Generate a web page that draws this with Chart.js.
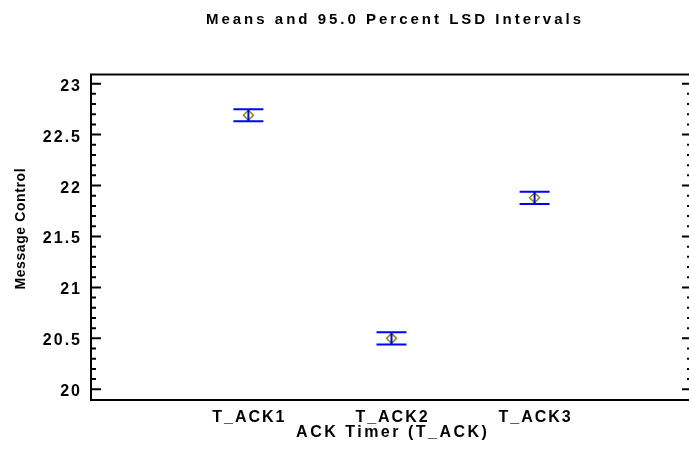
<!DOCTYPE html>
<html>
<head>
<meta charset="utf-8">
<script src="https://cdn.jsdelivr.net/npm/chart.js@4.4.1/dist/chart.umd.min.js"></script>
<style>
  html, body { margin: 0; padding: 0; background: #fff; overflow: hidden; }
  #wrap { width: 689px; height: 454px; overflow: hidden; }
  #box { position: relative; width: 709px; height: 454px; }
</style>
</head>
<body>
<div id="wrap"><div id="box"><canvas id="chart"></canvas></div></div>
<script>
// Data
const categories = ['T_ACK1', 'T_ACK2', 'T_ACK3'];
const catPos = [1, 2, 3];
const means = [22.69, 20.50, 21.88];
const lowerLimits = [22.63, 20.44, 21.82];
const upperLimits = [22.75, 20.56, 21.94];
const yTickLabels = [20, 20.5, 21, 21.5, 22, 22.5, 23];

const chartTitle = 'Means and 95.0 Percent LSD Intervals';
const xTitle = 'ACK Timer (T_ACK)';
const yTitle = 'Message Control';

const FONT = "'Liberation Sans', Arial, sans-serif";

// points for the error bars
const meanPoints = catPos.map((x, i) => ({ x: x, y: means[i] }));
const capPoints = [];
const stemPoints = [];
catPos.forEach((x, i) => {
    capPoints.push({ x: x, y: lowerLimits[i] }, { x: x, y: upperLimits[i] });
    stemPoints.push({ x: x, y: lowerLimits[i] }, { x: x, y: upperLimits[i] }, { x: x, y: null });
});

function spacedText(ctx, text, x, y, spacing, align) {
    ctx.letterSpacing = spacing + 'px';
    const w = ctx.measureText(text).width - spacing;
    let left = x;
    if (align === 'center') left = x - w / 2;
    if (align === 'right') left = x - w;
    ctx.textAlign = 'left';
    ctx.fillText(text, left, y);
    ctx.letterSpacing = '0px';
}

// frame, inward ticks and all text
const framePlugin = {
    id: 'frame',
    afterDraw(chart) {
        const ctx = chart.ctx;
        const area = chart.chartArea;
        const xs = chart.scales.x;
        const ys = chart.scales.y;
        ctx.save();
        ctx.strokeStyle = '#000';
        ctx.fillStyle = '#000';
        ctx.lineWidth = 2;
        ctx.strokeRect(area.left, area.top, area.right - area.left, area.bottom - area.top);

        // y ticks, both sides
        ctx.beginPath();
        yTickLabels.forEach((v, i) => {
            const py = ys.getPixelForValue(v);
            ctx.moveTo(area.left, py); ctx.lineTo(area.left + 10, py);
            ctx.moveTo(area.right, py); ctx.lineTo(area.right - 10, py);
            if (i < yTickLabels.length - 1) {
                for (let k = 1; k < 5; k++) {
                    const my = ys.getPixelForValue(v + k * 0.1);
                    ctx.moveTo(area.left, my); ctx.lineTo(area.left + 5, my);
                    ctx.moveTo(area.right, my); ctx.lineTo(area.right - 5, my);
                }
            }
        });
        ctx.stroke();

        ctx.textBaseline = 'alphabetic';
        ctx.font = 'bold 16px ' + FONT;
        yTickLabels.forEach(v => {
            spacedText(ctx, String(v), area.left - 11, ys.getPixelForValue(v) + 7, 2, 'right');
        });
        categories.forEach((c, i) => {
            spacedText(ctx, c, xs.getPixelForValue(catPos[i]), 422, 2, 'center');
        });
        spacedText(ctx, xTitle, (area.left + area.right) / 2, 437, 2.5, 'center');

        ctx.font = 'bold 15px ' + FONT;
        spacedText(ctx, chartTitle, (area.left + area.right) / 2 + 2, 24, 3, 'center');

        ctx.font = 'bold 14px ' + FONT;
        ctx.translate(25, 229);
        ctx.rotate(-Math.PI / 2);
        spacedText(ctx, yTitle, 0, 0, 0.6, 'center');
        ctx.restore();
    }
};

new Chart(document.getElementById('chart'), {
    type: 'scatter',
    data: {
        datasets: [
            {
                label: 'means',
                data: meanPoints,
                pointStyle: 'rectRot',
                pointRadius: 5,
                borderColor: '#8c8c00',
                backgroundColor: 'rgba(0,0,0,0)',
                borderWidth: 1.5,
                order: 2
            },
            {
                label: 'caps',
                data: capPoints,
                pointStyle: 'line',
                pointRadius: 15,
                borderColor: '#0000ff',
                borderWidth: 2,
                order: 1
            },
            {
                label: 'stems',
                type: 'line',
                data: stemPoints,
                showLine: true,
                spanGaps: false,
                pointRadius: 0,
                borderColor: '#0000ff',
                borderWidth: 2,
                order: 0
            }
        ]
    },
    options: {
        responsive: true,
        maintainAspectRatio: false,
        animation: false,
        events: [],
        layout: { padding: { left: 91, top: 74.5, right: 17, bottom: 54 } },
        plugins: {
            legend: { display: false },
            tooltip: { enabled: false },
            title: { display: false }
        },
        scales: {
            x: { type: 'linear', display: false, min: -0.1, max: 4.1 },
            y: { type: 'linear', display: false, min: 19.895, max: 23.09 }
        }
    },
    plugins: [framePlugin]
});
</script>
</body>
</html>
